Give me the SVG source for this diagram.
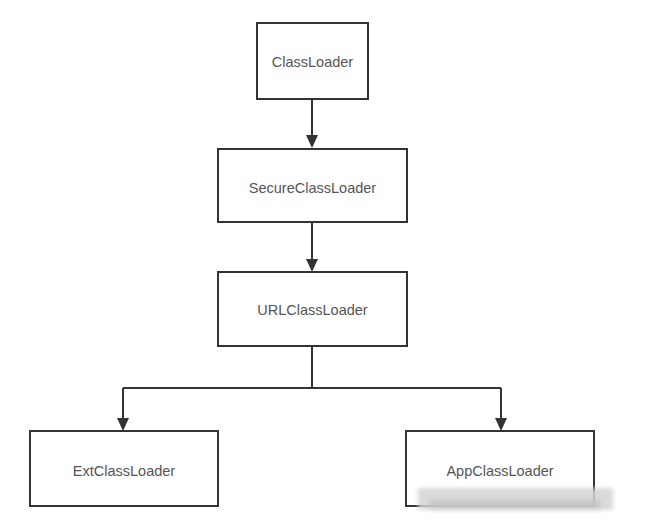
<svg xmlns="http://www.w3.org/2000/svg" width="645" height="525" viewBox="0 0 645 525">
<defs>
<style>
.box{fill:#fff;stroke:#333;stroke-width:2}
.lbl{font-family:"Liberation Sans",Arial,sans-serif;font-size:14.5px;fill:#555;text-anchor:middle;dominant-baseline:central}
.edge{fill:none;stroke:#333;stroke-width:2}
.head{fill:#333}
</style>
<filter id="blur"><feGaussianBlur stdDeviation="2"/></filter>
</defs>
<rect width="645" height="525" fill="#fff"/>
<g id="edges">
<path class="edge" d="M312 99V136"/>
<path class="head" d="M306 135L318 135L312 148Z"/>
<path class="edge" d="M312 222V259"/>
<path class="head" d="M306 259L318 259L312 272Z"/>
<path class="edge" d="M312 346V388M123 388H501M123 388V419M501 388V419"/>
<path class="head" d="M117 418L129 418L123 431Z"/>
<path class="head" d="M495 418L507 418L501 431Z"/>
</g>
<g id="n-classloader"><rect class="box" x="257" y="23" width="111" height="76"/><text class="lbl" x="312.5" y="62">ClassLoader</text></g>
<g id="n-secure"><rect class="box" x="218" y="149" width="189" height="73"/><text class="lbl" x="312.5" y="188">SecureClassLoader</text></g>
<g id="n-url"><rect class="box" x="218" y="272" width="189" height="74"/><text class="lbl" x="312.5" y="310">URLClassLoader</text></g>
<g id="n-ext"><rect class="box" x="30" y="431" width="188" height="75"/><text class="lbl" x="124" y="471">ExtClassLoader</text></g>
<g id="n-app"><rect class="box" x="406" y="431" width="188" height="75"/><text class="lbl" x="500" y="471">AppClassLoader</text></g>
<g id="watermark" filter="url(#blur)">
<rect x="418" y="488" width="195" height="22" fill="#d4d4d4" opacity="0.85"/>
<rect x="430" y="500" width="170" height="10" fill="#c4c4c4" opacity="0.8"/>
</g>
</svg>
